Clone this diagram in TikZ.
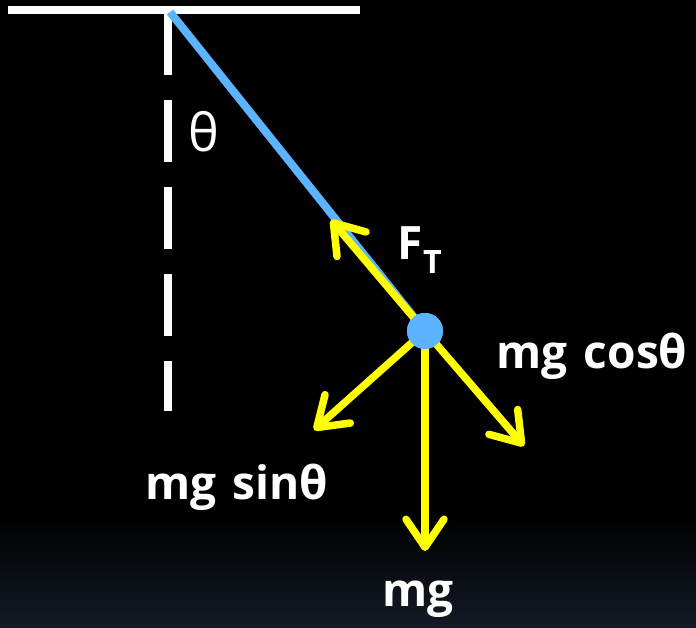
\documentclass[tikz,border=0pt]{standalone}
\usepackage{fontspec}
\setmainfont{Open Sans}
\usetikzlibrary{arrows.meta}
\definecolor{stringblue}{HTML}{5CB3FF}
\definecolor{forceyellow}{HTML}{FFFF00}
\definecolor{floorblue}{HTML}{141A26}
\tikzset{
  force/.style={draw=forceyellow, line width=7.5pt, line cap=round,
    -{Straight Barb[length=28pt,width=38pt,line cap=round,line join=round]}},
  lbl/.style={text=white, font=\fontsize{46}{52}\selectfont\bfseries, inner sep=0pt}
}
\begin{document}
\begin{tikzpicture}[x=1pt,y=-1pt]
  % background
  \fill[black] (0,0) rectangle (696,628);
  \shade[top color=black, bottom color=floorblue] (0,515) rectangle (696,628);
  \useasboundingbox (0,0) rectangle (696,628);
  % support and vertical
  \coordinate (pivot) at (170,12);
  \draw[white, line width=8pt] (8,10) -- (360,10);
  \draw[white, line width=8pt, dash pattern=on 62pt off 25pt] (168,13) -- (168,411);
  % string and bob
  \node[circle, fill=stringblue, minimum size=36pt, inner sep=0pt] (bob) at (425,331) {};
  \draw[stringblue, line width=8pt] (pivot) -- (bob.center);
  % forces
  \coordinate (ft) at (331,220);
  \coordinate (sinf) at (314,430);
  \coordinate (cosf) at (524,446);
  \coordinate (wf) at (425,551);
  \draw[force] (bob.center) -- (ft);
  \draw[force] (bob.center) -- (sinf);
  \draw[force] (bob.center) -- (cosf);
  \draw[force] (bob.center) -- (wf);
  \node[circle, fill=stringblue, minimum size=36pt, inner sep=0pt] at (bob) {};
  % labels
  \node[text=white, font=\fontsize{52}{58}\selectfont, inner sep=0pt] (theta) at (204,132) {θ};
  \node[lbl] (ftlbl) at (420,250) {F\textsubscript{T}};
  \node[lbl] (coslbl) at (592,356) {mg\hspace{0.35em}cosθ};
  \node[lbl] (sinlbl) at (237,487) {mg\hspace{0.35em}sinθ};
  \node[lbl] (wlbl) at (418,599) {mg};
\end{tikzpicture}
\end{document}
